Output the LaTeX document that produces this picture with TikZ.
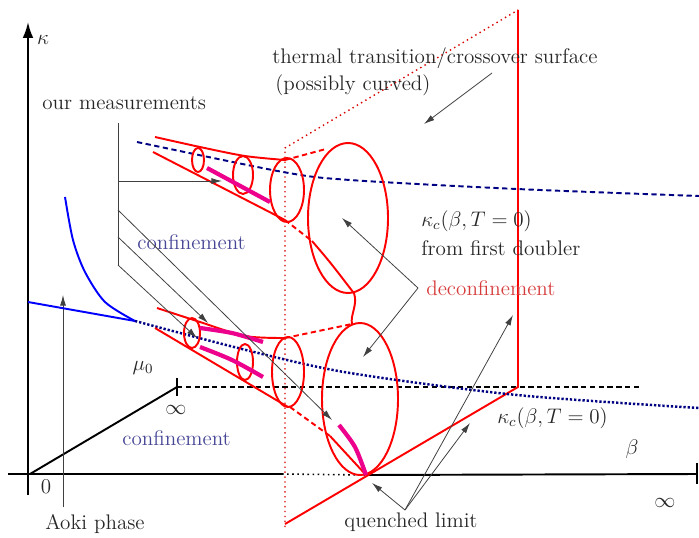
\documentclass[tikz,border=0pt]{standalone}
\usetikzlibrary{arrows.meta,calc}
\definecolor{deepnavy}{RGB}{0,0,130}
\definecolor{phaseblue}{RGB}{70,70,150}
\definecolor{phasered}{RGB}{215,60,60}
\begin{document}
\begin{tikzpicture}[
    x=0.02cm, y=-0.02cm,
    font=\fontsize{12}{14}\selectfont,
    % line styles
    axis/.style={draw=black, line width=1.1pt},
    redline/.style={draw=red, line width=1.1pt},
    reddash/.style={draw=red, line width=1.1pt, dash pattern=on 3pt off 2pt},
    planedot/.style={draw=red!85!black, line width=0.8pt, dotted},
    magline/.style={draw=magenta, line width=2.4pt},
    navydot/.style={draw=deepnavy, line width=1.4pt, dash pattern=on 1.3pt off 1.1pt},
    navydash/.style={draw=deepnavy, line width=1.1pt, dash pattern=on 3pt off 2pt},
    pointer/.style={-{Latex[length=6pt,width=3.4pt]}, draw=black!75, line width=0.45pt},
    % text styles
    lbl/.style={inner sep=0pt, text=black!85},
    conf/.style={inner sep=0pt, text=phaseblue},
    deconf/.style={inner sep=0pt, text=phasered},
]
\useasboundingbox (0,0) rectangle (699,537);

    % Axes
    \coordinate (kapBot) at (28,495);
    \coordinate (kapTop) at (28,22);
    \coordinate (axL) at (8,474);
    \coordinate (axS) at (282,474);
    \coordinate (q) at (366,475);
    \coordinate (axR) at (697,474);
    \coordinate (muO) at (30,474);
    \coordinate (muInf) at (177,387);
    \coordinate (muEnd) at (640,387);
    \coordinate (aokiBot) at (63,507);
    \coordinate (aokiTop) at (63,295);

    \draw[axis, -{Latex[length=9pt,width=6pt]}] (kapBot) -- (kapTop);
    \draw[axis] (axL) -- (axS);
    \draw[black, line width=0.9pt, dotted] (axS) -- (q);
    \draw[axis] (q) -- (axR);
    \draw[axis] ($(axR)+(0,-11)$) -- ($(axR)+(0,10)$);
    \draw[axis] (muO) -- (muInf);
    \draw[axis] ($(muInf)+(0,-9)$) -- ($(muInf)+(0,9)$);
    \draw[black, line width=0.9pt, dash pattern=on 3pt off 2pt] (muInf) -- (muEnd);
    \draw[pointer] (aokiBot) -- (aokiTop);

    % Transition surface
    \coordinate (pTL) at (285,148);
    \coordinate (pTR) at (518,10);
    \coordinate (pBR) at (518,387);
    \coordinate (pBL) at (285,524);
    \coordinate (pBot) at (285,527);
    \draw[planedot] (pBot) -- (pTL) -- (pTR);
    \draw[redline] (pTR) -- (pBR) -- (pBL);

    % Blue lines
    \coordinate (tip) at (135,321);
    \draw[draw=blue, line width=1.1pt] plot[smooth] coordinates {(65,197) (73,240) (85,272) (105,302) (tip)};
    \draw[draw=blue, line width=1.1pt] (28,302) -- (tip);
    \draw[navydot] plot[smooth] coordinates {(tip) (250,351) (350,373) (517,395) (699,408)};
    \draw[navydash] plot[smooth] coordinates {(137,142) (283,172) (350,180) (517,189) (699,196)};

    % Upper cone
    \draw[redline] plot[smooth] coordinates {(155,137) (200,147) (245,156) (285,160)};
    \draw[redline] (153,152) -- (285,220);
    \draw[redline] (198,160) ellipse [x radius=6, y radius=12];
    \draw[redline] (243,175) ellipse [x radius=10, y radius=19];
    \draw[redline] (287,190) ellipse [x radius=17, y radius=32];
    \draw[magline] (207,168) -- (270,202);
    \draw[reddash] (285,160) -- (326,149);
    \draw[reddash] (285,220) -- (312,241);
    \draw[redline] (348,218) ellipse [x radius=40, y radius=75];
    \draw[redline] (312,241) .. controls (330,262) .. (353,292);
    \draw[redline] (354,293) .. controls (358,305) and (350,315) .. (352,324);

    % Lower cone
    \draw[redline] plot[smooth] coordinates {(157,308) (200,322) (245,336) (285,338)};
    \draw[redline] (155,328) -- (288,407);
    \draw[redline] (192,333) ellipse [x radius=8, y radius=15];
    \draw[redline] (245,362) ellipse [x radius=8, y radius=18];
    \draw[redline] (288,372) ellipse [x radius=16, y radius=35];
    \draw[magline] plot[smooth] coordinates {(200,328) (232,333) (263,342)};
    \draw[magline] plot[smooth] coordinates {(200,347) (232,360) (263,377)};
    \draw[reddash] (285,338) -- (352,324);
    \draw[reddash] (290,407) -- (330,436);
    \draw[redline] (360,399) ellipse [x radius=38, y radius=76];
    \draw[redline] (330,436) .. controls (348,455) .. (q);
    \draw[magline] plot[smooth] coordinates {(339,425) (355,447) (q)};

    % Labels
    \node[lbl] (kappa) at (43,40) {$\kappa$};
    \node[lbl, anchor=west] (meas) at (42,103) {our measurements};
    \node[lbl, anchor=west] (surf) at (272,58) {thermal transition/crossover surface};
    \node[lbl, anchor=west] (curv) at (275,85) {(possibly curved)};
    \node[conf, anchor=west] (confUp) at (137,242) {confinement};
    \node[lbl, anchor=west] (kcUp) at (421,221) {$\kappa_c(\beta,T=0)$};
    \node[lbl, anchor=west] (doubler) at (421,248) {from first doubler};
    \node[deconf, anchor=west] (deconfTxt) at (426,288) {deconfinement};
    \node[lbl] (mu) at (143,368) {$\mu_0$};
    \node[lbl] (infMu) at (176,410) {$\infty$};
    \node[conf, anchor=west] (confLow) at (122,438) {confinement};
    \node[lbl, anchor=west] (kcLow) at (497,418) {$\kappa_c(\beta,T=0)$};
    \node[lbl] (beta) at (632,449) {$\beta$};
    \node[lbl] (infBeta) at (665,503) {$\infty$};
    \node[lbl] (zero) at (46,487) {0};
    \node[lbl] (aoki) at (95,524) {Aoki phase};
    \node[lbl] (quench) at (411,522) {quenched limit};

    % Pointers: our measurements
    \coordinate (mTop) at (118,123);
    \coordinate (mBot) at (118,265);
    \coordinate (m1) at (118,181);
    \coordinate (m2) at (118,210);
    \coordinate (m3) at (118,237);
    \draw[draw=black!75, line width=0.45pt] (mTop) -- (mBot);
    \draw[pointer] (m1) -- (222,181);
    \draw[pointer] (m2) -- (332,420);
    \draw[pointer] (m3) -- (208,323);
    \draw[pointer] (mBot) -- (197,338);

    % Pointers: surface, deconfinement, quenched limit
    \draw[pointer] (492,73) -- (424,124);
    \coordinate (dv) at (418,288);
    \draw[pointer] (dv) -- (342,218);
    \draw[pointer] (dv) -- (363,357);
    \coordinate (qv) at (405,510);
    \draw[pointer] (qv) -- (372,483);
    \draw[pointer] (qv) -- (513,315);
    \draw[pointer] (qv) -- (470,423);

\end{tikzpicture}
\end{document}
